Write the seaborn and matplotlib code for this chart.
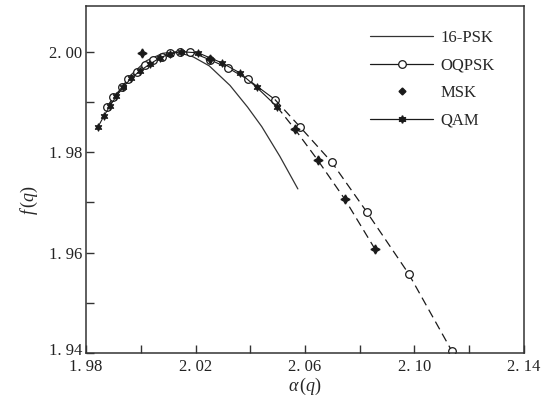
import numpy as np
import pandas as pd
import seaborn as sns
from matplotlib import pyplot as plt
from matplotlib import ticker
from matplotlib import transforms
from matplotlib.lines import Line2D

# 16-PSK (solid, no markers)
psk_x = [1.9880, 1.9920, 1.9960, 2.0020, 2.0080, 2.0130, 2.0191, 2.0250, 2.0326,
         2.0390, 2.0442, 2.0508, 2.0574]
psk_y = [1.9890, 1.9920, 1.9952, 1.9982, 1.9997, 2.0000, 1.9990, 1.9972, 1.9933,
         1.9890, 1.9851, 1.9792, 1.9727]

# OQPSK circles (solid part, then dashed tail)
oqpsk_x = [1.9877, 1.9899, 1.9931, 1.9953, 1.9986, 2.0015, 2.0045, 2.0077, 2.0107,
           2.0143, 2.0180, 2.0253, 2.0318, 2.0391, 2.0490]
oqpsk_y = [1.9891, 1.9909, 1.9929, 1.9945, 1.9960, 1.9974, 1.9984, 1.9990, 1.9998,
           2.0000, 2.0000, 1.9984, 1.9968, 1.9945, 1.9905]
oqpsk_tail_x = [2.0490, 2.0581, 2.0698, 2.0826, 2.0979, 2.1136]
oqpsk_tail_y = [1.9905, 1.9851, 1.9780, 1.9681, 1.9558, 1.9405]

# QAM stars
qam_x = [1.9844, 1.9866, 1.9888, 1.9910, 1.9935, 1.9964, 1.9997, 2.0034, 2.0070,
         2.0107, 2.0147, 2.0209, 2.0296, 2.0362, 2.0424, 2.0497]
qam_y = [1.9851, 1.9873, 1.9893, 1.9911, 1.9929, 1.9947, 1.9962, 1.9976, 1.9988,
         1.9996, 2.0000, 1.9998, 1.9978, 1.9958, 1.9929, 1.9891]

# MSK points (markers only) and the dashed trace through them
msk_x = [2.0003, 2.0253, 2.0563, 2.0647, 2.0745, 2.0855]
msk_y = [1.9997, 1.9986, 1.9846, 1.9784, 1.9707, 1.9608]
msk_trace_x = [2.0497, 2.0563, 2.0647, 2.0745, 2.0855]
msk_trace_y = [1.9891, 1.9846, 1.9784, 1.9707, 1.9608]

x_ticks = [1.98, 2.02, 2.06, 2.10, 2.14]
y_ticks = [1.94, 1.96, 1.98, 2.00]

sns.set_style("ticks")
plt.rcParams["font.family"] = ["Liberation Serif", "DejaVu Serif"]
plt.rcParams["mathtext.fontset"] = "custom"
plt.rcParams["mathtext.rm"] = "Liberation Serif"
plt.rcParams["mathtext.it"] = "Liberation Serif:italic"

fig, ax = plt.subplots(figsize=(5.52, 4.05), dpi=100)
fig.subplots_adjust(left=0.156, right=0.949, top=0.985, bottom=0.128)

ink = "#1a1a1a"
dash = (0, (7, 4))
circle = dict(marker="o", markersize=5.5, markerfacecolor="white", markeredgecolor=ink, markeredgewidth=0.9)
star = dict(marker=(6, 1, 0), markersize=5.5, markerfacecolor=ink, markeredgecolor=ink)

sns.lineplot(x=psk_x, y=psk_y, ax=ax, sort=False, estimator=None, color="#333333", linewidth=0.9)
sns.lineplot(x=oqpsk_x, y=oqpsk_y, ax=ax, sort=False, estimator=None, color=ink, linewidth=0.8, **circle)
sns.lineplot(x=oqpsk_tail_x, y=oqpsk_tail_y, ax=ax, sort=False, estimator=None, color=ink, linewidth=0.9,
             linestyle=dash, markevery=list(range(1, len(oqpsk_tail_x))), **circle)
sns.lineplot(x=qam_x, y=qam_y, ax=ax, sort=False, estimator=None, color=ink, linewidth=0.8, **star)
sns.lineplot(x=msk_trace_x, y=msk_trace_y, ax=ax, sort=False, estimator=None, color=ink, linewidth=0.9,
             linestyle=dash)
ax.plot(msk_x, msk_y, linestyle="none", marker=(4, 1, 0), markersize=6.5, color=ink)

ax.set_xlim(1.98, 2.14)
ax.set_ylim(1.94, 2.0091)
ax.xaxis.set_major_locator(ticker.FixedLocator(x_ticks))
ax.xaxis.set_minor_locator(ticker.MultipleLocator(0.02))
ax.yaxis.set_major_locator(ticker.FixedLocator(y_ticks))
ax.yaxis.set_minor_locator(ticker.MultipleLocator(0.01))
fmt = ticker.FuncFormatter(lambda v, pos: f"{v:.2f}".replace(".", ". "))
ax.xaxis.set_major_formatter(fmt)
ax.yaxis.set_major_formatter(fmt)
ax.tick_params(which="both", direction="in", length=6, width=1, color="#333333",
               labelsize=12, labelcolor="#222222", pad=2)
ax.tick_params(axis="x", which="both", pad=4)
ax.tick_params(axis="y", which="both", pad=3)
for side in ax.spines.values():
    side.set_linewidth(1.1)
    side.set_color("#333333")

# lift the bottom y label a little so it clears the first x label
fig.canvas.draw()
lowest = ax.get_yticklabels()[0]
lowest.set_transform(lowest.get_transform() + transforms.ScaledTranslation(0, 3 / 72, fig.dpi_scale_trans))

ax.set_xlabel(r"$\alpha\,(q)$", fontsize=13, labelpad=1)
ax.set_ylabel(r"$f\,(q)$", fontsize=13)
ax.yaxis.set_label_coords(-0.105, 0.44)

handles = [
    Line2D([], [], color="#333333", linewidth=0.9),
    Line2D([], [], color=ink, linewidth=0.9, **circle),
    Line2D([], [], color=ink, linestyle="none", marker="D", markersize=3.5),
    Line2D([], [], color=ink, linewidth=0.9, **star),
]
ax.legend(handles, ["16-PSK", "OQPSK", "MSK", "QAM"], loc="upper right", bbox_to_anchor=(0.967, 0.975),
          frameon=False, fontsize=12, handlelength=3.8, handletextpad=0.4, labelspacing=0.7)

fig.savefig("out.png", dpi=100)
